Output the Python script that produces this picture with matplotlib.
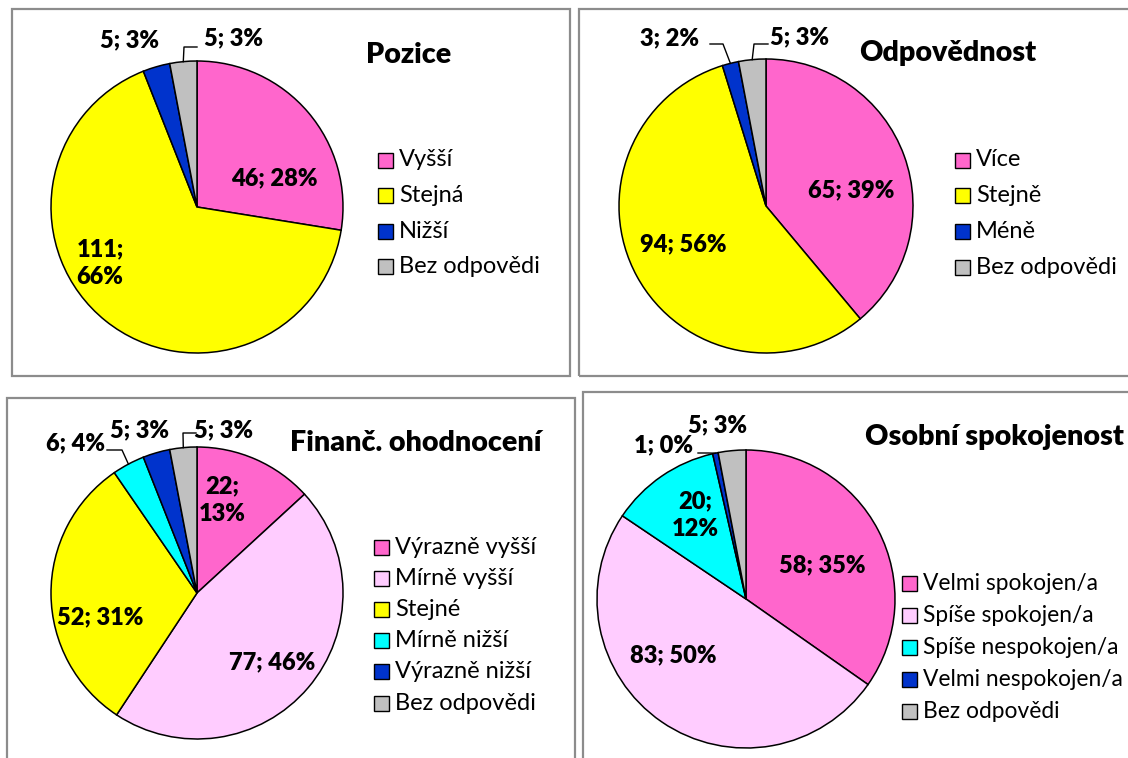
import numpy as np
import matplotlib
matplotlib.use("Agg")
import matplotlib.pyplot as plt
from matplotlib.patches import Rectangle

plt.rcParams['font.family'] = ['Lato', 'DejaVu Sans']

W, H = 1128, 758

# ---------------- data ----------------
poz_names = ["Vyšší", "Stejná", "Nižší", "Bez odpovědi"]
poz_vals = [46, 111, 5, 5]
poz_labels = ["46; 28%", "111;\n66%", "5; 3%", "5; 3%"]

odp_names = ["Více", "Stejně", "Méně", "Bez odpovědi"]
odp_vals = [65, 94, 3, 5]
odp_labels = ["65; 39%", "94; 56%", "3; 2%", "5; 3%"]

fin_names = ["Výrazně vyšší", "Mírně vyšší", "Stejné", "Mírně nižší", "Výrazně nižší", "Bez odpovědi"]
fin_vals = [22, 77, 52, 6, 5, 5]
fin_labels = ["22;\n13%", "77; 46%", "52; 31%", "6; 4%", "5; 3%", "5; 3%"]

oso_names = ["Velmi spokojen/a", "Spíše spokojen/a", "Spíše nespokojen/a", "Velmi nespokojen/a", "Bez odpovědi"]
oso_vals = [58, 83, 20, 1, 5]
oso_labels = ["58; 35%", "83; 50%", "20;\n12%", "1; 0%", "5; 3%"]

PINK, YEL, BLUE, GRAY, LPINK, CYAN = "#FF66CC", "#FFFF00", "#0033CC", "#C0C0C0", "#FFCCFF", "#00FFFF"

# ---------------- layout (pixel coords, y from top) ----------------
panels = [
    dict(title="Pozice", names=poz_names, vals=poz_vals, labels=poz_labels,
         colors=[PINK, YEL, BLUE, GRAY],
         box=(12, 9, 570, 376), center=(197, 207), r=146, title_pos=(409, 55),
         lab_pos=[(274, 178), (100, 263), (129, 40), (233, 38)],
         leaders={3: (184, 47, 197)},
         leg=(378, 160, 35.5), leg_fs=17),
    dict(title="Odpovědnost", names=odp_names, vals=odp_vals, labels=odp_labels,
         colors=[PINK, YEL, BLUE, GRAY],
         box=(579, 9, 1140, 376), center=(766, 206), r=147, title_pos=(948, 53),
         lab_pos=[(851, 190), (683, 244), (670, 38), (800, 37)],
         leaders={2: (723, 44, 710), 3: (754, 44, 768)},
         leg=(955, 160, 35.8), leg_fs=17),
    dict(title="Finanč. ohodnocení", names=fin_names, vals=fin_vals, labels=fin_labels,
         colors=[PINK, LPINK, YEL, CYAN, BLUE, GRAY],
         box=(7, 398, 575, 770), center=(197, 593), r=146, title_pos=(416, 443),
         lab_pos=[(222, 500), (272, 662), (100, 617), (75, 443), (140, 430), (224, 430)],
         leaders={3: (122, 450, 107), 5: (183, 433, 196)},
         leg=(374, 547, 31.2), leg_fs=17),
    dict(title="Osobní spokojenost", names=oso_names, vals=oso_vals, labels=oso_labels,
         colors=[PINK, LPINK, CYAN, BLUE, GRAY],
         box=(583, 392, 1140, 770), center=(746, 599), r=149, title_pos=(994, 437),
         lab_pos=[(822, 565), (673, 655), (695, 515), (664, 445), (718, 425)],
         leaders={3: (708, 453, 698)},
         leg=(902, 583, 32.2), leg_fs=16.4),
]

fig = plt.figure(figsize=(W / 100, H / 100), dpi=100)
ax = fig.add_axes([0, 0, 1, 1])


def P(x, y):
    return x, H - y


for p in panels:
    x0, y0, x1, y1 = p["box"]
    ax.add_patch(Rectangle(P(x0, y1), x1 - x0, y1 - y0, fill=False,
                           edgecolor="#8c8c8c", lw=1.6, zorder=0))
    cx, cy = P(*p["center"])
    wedges, _ = ax.pie(p["vals"], colors=p["colors"], startangle=90, counterclock=False,
                       center=(cx, cy), radius=p["r"],
                       wedgeprops=dict(edgecolor="black", linewidth=1.1))
    for i, (lab, (lx, ly)) in enumerate(zip(p["labels"], p["lab_pos"])):
        ax.text(*P(lx, ly), lab, ha="center", va="center", fontsize=17,
                fontweight="heavy", linespacing=1.3, zorder=5)
        if i in p["leaders"]:
            w = wedges[i]
            mid = np.deg2rad((w.theta1 + w.theta2) / 2)
            ex, ey = cx + p["r"] * np.cos(mid), cy + p["r"] * np.sin(mid)
            kx, ky, tx = p["leaders"][i]
            kx, ky = P(kx, ky)
            tx, _ = P(tx, 0)
            ax.plot([ex, kx, tx], [ey, ky, ky], color="black", lw=1.0, zorder=4)
    ax.text(*P(*p["title_pos"]), p["title"], ha="center", va="center",
            fontsize=20.6, fontweight="heavy")
    lx, ly, step = p["leg"]
    for j, (nm, col) in enumerate(zip(p["names"], p["colors"])):
        yy = ly + j * step
        sx, sy = P(lx, yy + 7.5)
        ax.add_patch(Rectangle((sx, sy), 15, 15, facecolor=col, edgecolor="black", lw=1.0))
        ax.text(*P(lx + 21, yy), nm, ha="left", va="center", fontsize=p["leg_fs"])

ax.set_xlim(0, W)
ax.set_ylim(0, H)
ax.set_aspect("auto")
ax.axis("off")
fig.savefig("out.png", dpi=100)
